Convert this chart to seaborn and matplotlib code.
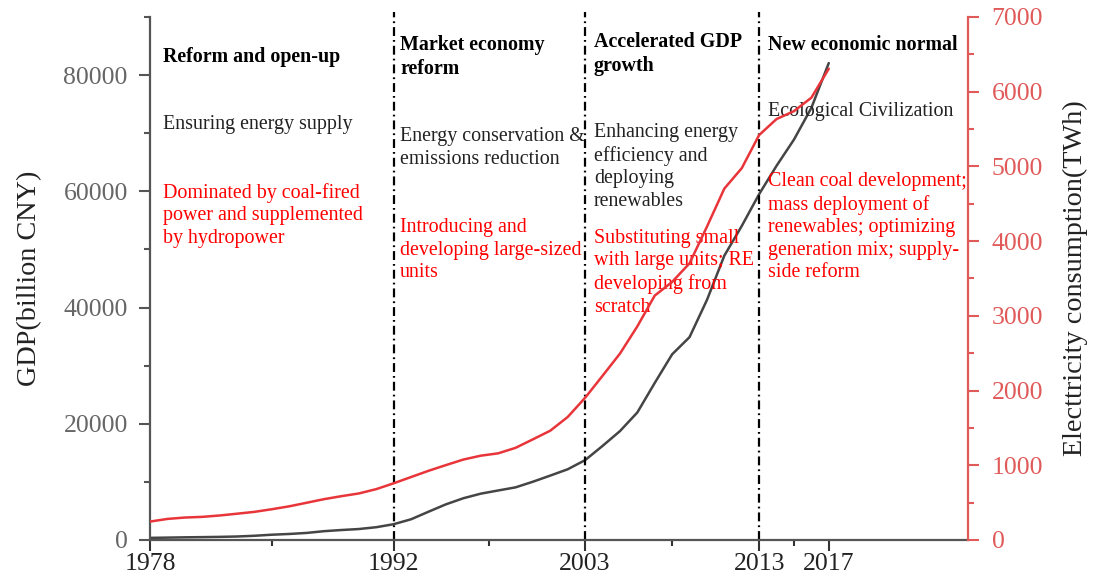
import numpy as np
import pandas as pd
import seaborn as sns
import matplotlib.pyplot as plt
from matplotlib.ticker import MultipleLocator, FixedLocator

# data
years = list(range(1978, 2018))
gdp = [367.9, 410.0, 458.8, 493.6, 537.3, 602.0, 727.9, 909.9, 1037.6, 1217.5,
       1517.9, 1717.9, 1887.3, 2200.6, 2719.5, 3567.3, 4863.8, 6134.0, 7181.4, 7971.5,
       8519.6, 9056.4, 10028.0, 11086.3, 12171.7, 13742.2, 16184.0, 18731.9, 21944.0, 27023.2,
       31951.5, 34908.1, 41303.0, 48930.1, 54036.7, 59524.4, 64397.4, 68905.2, 74358.6, 82075.0]
elec = [246.5, 282.0, 300.6, 309.6, 328.0, 351.9, 376.6, 411.9, 450.7, 498.5,
        546.7, 586.6, 623.0, 680.9, 759.0, 842.6, 926.0, 1002.3, 1076.4, 1128.4,
        1159.8, 1233.1, 1347.2, 1463.3, 1646.5, 1903.2, 2197.1, 2494.0, 2858.8, 3271.2,
        3454.1, 3703.2, 4193.4, 4703.5, 4976.3, 5420.3, 5634.2, 5740.0, 5919.8, 6307.7]
period_breaks = [1992, 2003, 2013]
xticks = [1978, 1992, 2003, 2013, 2017]

headings = ["Reform and open-up", "Market economy\nreform",
            "Accelerated GDP\ngrowth", "New economic normal"]
goals = ["Ensuring energy supply", "Energy conservation &\nemissions reduction",
         "Enhancing energy\nefficiency and\ndeploying\nrenewables", "Ecological Civilization"]
measures = ["Dominated by coal-fired\npower and supplemented\nby hydropower",
            "Introducing and\ndeveloping large-sized\nunits",
            "Substituting small\nwith large units; RE\ndeveloping from\nscratch",
            "Clean coal development;\nmass deployment of\nrenewables; optimizing\ngeneration mix; supply-\nside reform"]

df = pd.DataFrame({"year": years, "gdp": gdp, "elec": elec})

sns.set_style("ticks")
plt.rcParams['font.family'] = ['Liberation Serif', 'DejaVu Serif']

fig = plt.figure(figsize=(10.94, 5.81), dpi=100)
ax = fig.add_axes([150/1094, 41/581, 818/1094, 523/581])
ax2 = ax.twinx()

gray = "#555555"
red_axis = "#e05a5a"

sns.lineplot(data=df, x="year", y="gdp", ax=ax, color="#454545", lw=1.8)
sns.lineplot(data=df, x="year", y="elec", ax=ax2, color="#e8353a", lw=1.8)

for yr in period_breaks:
    ax.axvline(yr, ymin=0, ymax=1.01, color="black", lw=1.6,
               linestyle=(0, (4, 1.8, 0.8, 1.8)), clip_on=False)

ax.set_xlim(1978, 2025)
ax.set_ylim(0, 90000)
ax2.set_ylim(0, 7000)

ax.xaxis.set_major_locator(FixedLocator(xticks))
ax.xaxis.set_minor_locator(FixedLocator([1985, 1997.5, 2008, 2015]))
ax.yaxis.set_major_locator(FixedLocator([0, 20000, 40000, 60000, 80000]))
ax.yaxis.set_minor_locator(MultipleLocator(10000))
ax2.yaxis.set_major_locator(MultipleLocator(1000))
ax2.yaxis.set_minor_locator(MultipleLocator(500))

ax.set_xlabel("")
ax.set_ylabel("GDP(billion CNY)", fontsize=20.3, color="#222222", labelpad=15)
ax2.set_ylabel("Electtricity consumption(TWh)", fontsize=20.3, color="#222222", labelpad=14)

for a in (ax, ax2):
    a.spines["top"].set_visible(False)
ax.spines["right"].set_visible(False)
ax2.spines["left"].set_visible(False)
ax2.spines["bottom"].set_visible(False)
for s in ("left", "bottom"):
    ax.spines[s].set_color(gray)
    ax.spines[s].set_linewidth(1.6)
ax2.spines["right"].set_color(red_axis)
ax2.spines["right"].set_linewidth(1.6)

ax.tick_params(axis="y", which="major", length=8, width=1.5, color=gray,
               labelsize=18.5, labelcolor="#666666", pad=8)
ax.tick_params(axis="y", which="minor", length=4, width=1.5, color=gray)
ax.tick_params(axis="x", which="major", length=8, width=1.5, color="#333333",
               labelsize=18.5, labelcolor="#222222", pad=1)
ax.tick_params(axis="x", which="minor", length=4, width=1.5, color="#333333")
ax2.tick_params(axis="y", which="major", length=8, width=1.5, color=red_axis,
                labelsize=18.5, labelcolor=red_axis, pad=9)
ax2.tick_params(axis="y", which="minor", length=4, width=1.5, color=red_axis)

# text blocks, positions in pixels of the axes box
text_x = [163, 400, 594, 768]
head_y = [57, 45, 42, 45]
goal_y = [125, 137, 133, 112]
meas_y = [193, 228, 239, 182]

def to_axes(px, py):
    return (px - 150) / 818, (540 - py + 10) / 523

fs = 14.4
for i in range(4):
    x, y = to_axes(text_x[i], head_y[i])
    ax.text(x, y, headings[i], transform=ax.transAxes, fontsize=fs, fontweight="bold",
            color="black", va="top", ha="left", linespacing=1.25)
    x, y = to_axes(text_x[i], goal_y[i])
    ax.text(x, y, goals[i], transform=ax.transAxes, fontsize=fs,
            color="#222222", va="top", ha="left", linespacing=1.25)
    x, y = to_axes(text_x[i], meas_y[i])
    ax.text(x, y, measures[i], transform=ax.transAxes, fontsize=fs,
            color="#ff0000", va="top", ha="left", linespacing=1.25)

fig.savefig("out.png", dpi=100)
